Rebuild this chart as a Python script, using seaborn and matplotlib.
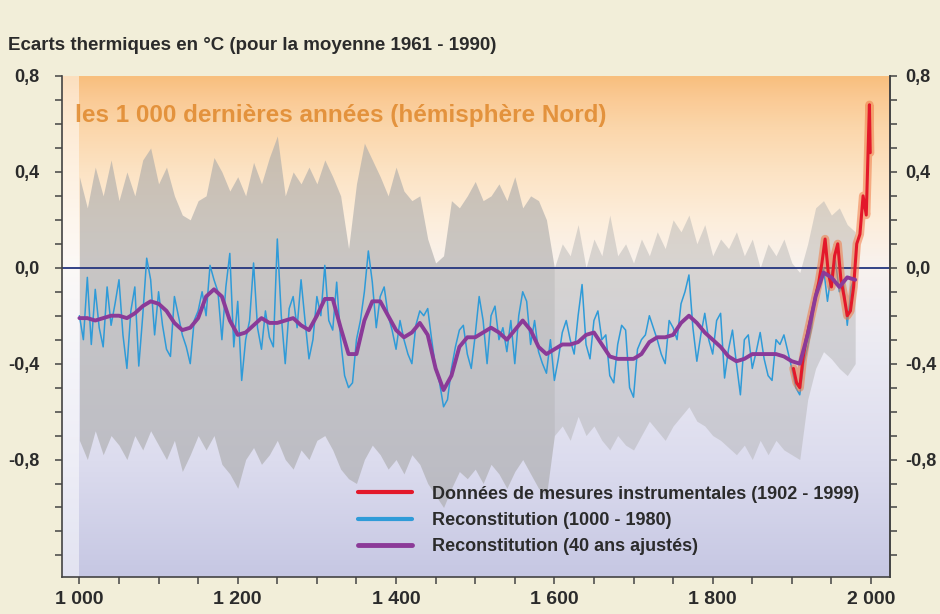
import numpy as np
import pandas as pd
import matplotlib.pyplot as plt
import seaborn as sns
from matplotlib.colors import LinearSegmentedColormap
from matplotlib.lines import Line2D
from matplotlib.ticker import MultipleLocator, FuncFormatter

# Reconstitution annuelle (lue tous les 5 ans, 1000 - 1980)
blue_step = 5
blue_vals = [
    -0.20, -0.30, -0.04, -0.32, -0.09, -0.25, -0.33, -0.08, -0.24, -0.15,
    -0.05, -0.28, -0.42, -0.18, -0.08, -0.41, -0.20, 0.04, -0.05, -0.28,
    -0.10, -0.24, -0.34, -0.37, -0.12, -0.20, -0.28, -0.33, -0.40, -0.22,
    -0.18, -0.10, -0.20, 0.01, -0.05, -0.10, -0.30, -0.08, 0.06, -0.33,
    -0.14, -0.47, -0.30, -0.22, 0.02, -0.25, -0.34, -0.18, -0.29, -0.33,
    0.12, -0.20, -0.40, -0.17, -0.12, -0.25, -0.05, -0.22, -0.38, -0.30,
    -0.12, -0.20, 0.01, -0.22, -0.26, -0.06, -0.30, -0.45, -0.50, -0.48,
    -0.30, -0.22, -0.10, 0.07, -0.06, -0.25, -0.12, -0.08, -0.20, -0.26,
    -0.34, -0.22, -0.30, -0.36, -0.40, -0.24, -0.18, -0.20, -0.17, -0.30,
    -0.42, -0.48, -0.58, -0.55, -0.42, -0.33, -0.26, -0.24, -0.36, -0.42,
    -0.28, -0.12, -0.22, -0.40, -0.20, -0.16, -0.30, -0.25, -0.35, -0.22,
    -0.40, -0.20, -0.10, -0.14, -0.32, -0.22, -0.35, -0.40, -0.44, -0.30,
    -0.47, -0.38, -0.27, -0.22, -0.30, -0.36, -0.20, -0.07, -0.32, -0.38,
    -0.22, -0.18, -0.30, -0.28, -0.45, -0.48, -0.32, -0.24, -0.26, -0.50,
    -0.54, -0.34, -0.30, -0.28, -0.20, -0.25, -0.30, -0.36, -0.40, -0.22,
    -0.25, -0.30, -0.15, -0.10, -0.03, -0.25, -0.39, -0.28, -0.19, -0.30,
    -0.36, -0.22, -0.19, -0.46, -0.34, -0.26, -0.40, -0.53, -0.30, -0.28,
    -0.42, -0.35, -0.27, -0.38, -0.45, -0.47, -0.30, -0.32, -0.28, -0.35,
    -0.42, -0.50, -0.53, -0.40, -0.33, -0.25, -0.10, -0.05, 0.00, -0.14,
    -0.02, 0.03, -0.10, -0.05, -0.24, -0.08, -0.03,
]

# Courbe lissée 40 ans + enveloppe d'incertitude (tous les 10 ans)
smooth_step = 10
purple_vals = [
    -0.21, -0.21, -0.22, -0.21, -0.20, -0.20, -0.21, -0.19, -0.16, -0.14,
    -0.15, -0.18, -0.23, -0.26, -0.25, -0.21, -0.12, -0.09, -0.12, -0.22,
    -0.28, -0.27, -0.24, -0.21, -0.23, -0.23, -0.22, -0.21, -0.24, -0.26,
    -0.20, -0.13, -0.13, -0.25, -0.36, -0.36, -0.22, -0.14, -0.14, -0.20,
    -0.26, -0.29, -0.27, -0.23, -0.28, -0.42, -0.51, -0.45, -0.33, -0.29,
    -0.29, -0.27, -0.25, -0.27, -0.30, -0.26, -0.22, -0.26, -0.33, -0.36,
    -0.34, -0.32, -0.32, -0.31, -0.28, -0.27, -0.32, -0.37, -0.38, -0.38,
    -0.38, -0.36, -0.31, -0.29, -0.29, -0.28, -0.23, -0.20, -0.23, -0.27,
    -0.30, -0.33, -0.37, -0.39, -0.38, -0.36, -0.36, -0.36, -0.36, -0.37,
    -0.39, -0.40, -0.28, -0.12, -0.02, -0.04, -0.08, -0.04, -0.05,
]
band_upper = [
    0.38, 0.25, 0.42, 0.30, 0.45, 0.28, 0.40, 0.30, 0.45, 0.50,
    0.35, 0.42, 0.30, 0.22, 0.20, 0.28, 0.30, 0.46, 0.40, 0.32,
    0.38, 0.30, 0.44, 0.35, 0.46, 0.55, 0.30, 0.40, 0.35, 0.42,
    0.35, 0.45, 0.38, 0.30, 0.08, 0.35, 0.52, 0.45, 0.38, 0.30,
    0.42, 0.32, 0.28, 0.30, 0.12, 0.02, 0.05, 0.28, 0.25, 0.30,
    0.36, 0.28, 0.30, 0.35, 0.28, 0.38, 0.25, 0.30, 0.28, 0.20,
    0.00, 0.10, 0.05, 0.18, 0.00, 0.12, 0.05, 0.22, 0.05, 0.10,
    0.02, 0.12, 0.05, 0.15, 0.08, 0.20, 0.15, 0.22, 0.10, 0.18,
    0.05, 0.12, 0.08, 0.15, 0.05, 0.12, 0.00, 0.10, 0.05, 0.12,
    0.02, -0.02, 0.10, 0.25, 0.28, 0.22, 0.25, 0.18, 0.15,
]
band_lower = [
    -0.72, -0.80, -0.68, -0.78, -0.70, -0.74, -0.80, -0.70, -0.76, -0.68,
    -0.74, -0.80, -0.72, -0.85, -0.78, -0.70, -0.76, -0.70, -0.82, -0.86,
    -0.92, -0.80, -0.75, -0.82, -0.78, -0.72, -0.80, -0.84, -0.76, -0.80,
    -0.72, -0.70, -0.76, -0.84, -0.88, -0.90, -0.80, -0.74, -0.78, -0.84,
    -0.80, -0.86, -0.78, -0.82, -0.90, -0.95, -1.00, -0.92, -0.85, -0.88,
    -0.84, -0.90, -0.82, -0.86, -0.92, -0.85, -0.80, -0.86, -0.92, -0.95,
    -0.70, -0.66, -0.72, -0.62, -0.70, -0.66, -0.72, -0.76, -0.70, -0.74,
    -0.76, -0.70, -0.64, -0.68, -0.72, -0.66, -0.62, -0.58, -0.64, -0.66,
    -0.70, -0.72, -0.75, -0.78, -0.74, -0.80, -0.72, -0.78, -0.72, -0.76,
    -0.78, -0.80, -0.55, -0.42, -0.35, -0.38, -0.42, -0.45, -0.40,
]

# Mesures instrumentales (1902 - 1999)
red_years = [1902, 1906, 1910, 1914, 1918, 1922, 1926, 1930, 1934, 1938,
             1942, 1946, 1950, 1954, 1958, 1962, 1966, 1970, 1974, 1978,
             1982, 1986, 1990, 1994, 1996, 1998, 1999]
red_vals = [-0.42, -0.48, -0.50, -0.38, -0.30, -0.24, -0.18, -0.12, -0.06, 0.02,
            0.12, -0.02, -0.08, 0.05, 0.10, -0.05, -0.12, -0.20, -0.18, -0.08,
            0.10, 0.14, 0.30, 0.22, 0.45, 0.68, 0.48]

x_ticks = [1000, 1200, 1400, 1600, 1800, 2000]
y_ticks = [-0.8, -0.4, 0.0, 0.4, 0.8]

title = "Ecarts thermiques en °C (pour la moyenne 1961 - 1990)"
inner_label = "les 1 000 dernières années (hémisphère Nord)"
legend_labels = ["Données de mesures instrumentales (1902 - 1999)",
                 "Reconstitution (1000 - 1980)",
                 "Reconstitution (40 ans ajustés)"]

c_red, c_blue, c_purple = "#e3182a", "#2f9bd8", "#8b3a98"
c_text, c_axis = "#2b2b2b", "#444444"

df_blue = pd.DataFrame({"annee": 1000 + blue_step * np.arange(len(blue_vals)),
                        "ecart": blue_vals})
df_smooth = pd.DataFrame({"annee": 1000 + smooth_step * np.arange(len(purple_vals)),
                          "ecart": purple_vals, "haut": band_upper, "bas": band_lower})
df_red = pd.DataFrame({"annee": red_years, "ecart": red_vals})

sns.set_style("ticks")
plt.rcParams["font.family"] = ["Liberation Sans", "DejaVu Sans"]

fig = plt.figure(figsize=(9.4, 6.14), dpi=100, facecolor="#f2eed9")
ax = fig.add_axes([62 / 940, 37 / 614, 828 / 940, 501 / 614])
xmin, xmax, ymin, ymax = 978, 2024, -1.29, 0.8

# Fond dégradé orange -> lavande
grad_cmap = LinearSegmentedColormap.from_list("fond", [
    (0.00, "#f8bf7e"), (0.04, "#fac993"), (0.10, "#fbd6aa"), (0.19, "#fce3c4"),
    (0.29, "#fdeedc"), (0.38, "#f8f2ee"), (0.53, "#ecebf3"), (0.77, "#dcdcee"),
    (1.00, "#c6c7e3")])
ax.imshow(np.linspace(0, 1, 256).reshape(-1, 1), cmap=grad_cmap, aspect="auto",
          extent=[xmin, xmax, ymin, ymax], zorder=0)
ax.axvspan(xmin, 1000, color="white", alpha=0.5, lw=0, zorder=0.5)

# Enveloppe grise (plus pâle après 1600)
early = df_smooth["annee"] <= 1600
late = df_smooth["annee"] >= 1600
ax.fill_between(df_smooth["annee"], df_smooth["bas"], df_smooth["haut"], where=early,
                color="#a9a9a9", alpha=0.6, lw=0, zorder=1)
ax.fill_between(df_smooth["annee"], df_smooth["bas"], df_smooth["haut"], where=late,
                color="#b0b0b0", alpha=0.45, lw=0, zorder=1)
ax.axhline(0, color="#23357e", lw=1.3, zorder=2)

sns.lineplot(data=df_blue, x="annee", y="ecart", ax=ax, color=c_blue, lw=1.1, zorder=3)
sns.lineplot(data=df_red, x="annee", y="ecart", ax=ax, color="#f07a45", lw=6,
             alpha=0.55, zorder=4)
sns.lineplot(data=df_red, x="annee", y="ecart", ax=ax, color=c_red, lw=2.2, zorder=5)
sns.lineplot(data=df_smooth, x="annee", y="ecart", ax=ax, color=c_purple, lw=2.8, zorder=6)

ax.set_xlim(xmin, xmax)
ax.set_ylim(ymin, ymax)
ax.set_xlabel("")
ax.set_ylabel("")

y_fmt = FuncFormatter(
    lambda v, p: ("-" if v < -1e-9 else "") + f"{abs(v):.1f}".replace(".", ","))
ax.set_xticks(x_ticks)
ax.xaxis.set_minor_locator(MultipleLocator(50))
ax.set_yticks(y_ticks)
ax.yaxis.set_minor_locator(MultipleLocator(0.1))
ax.xaxis.set_major_formatter(FuncFormatter(lambda v, p: f"{int(v):,}".replace(",", " ")))
ax.yaxis.set_major_formatter(y_fmt)
ax.tick_params(axis="y", which="both", direction="out", length=5, width=1.1,
               color=c_axis, pad=11, labelsize=13)
ax.tick_params(axis="x", which="both", direction="out", length=5, width=1.1,
               color=c_axis, pad=5, labelsize=14)

# Axe de droite identique
sec = ax.secondary_yaxis("right")
sec.set_yticks(y_ticks)
sec.yaxis.set_minor_locator(MultipleLocator(0.1))
sec.yaxis.set_major_formatter(y_fmt)
sec.tick_params(axis="y", which="both", direction="out", length=5, width=1.1,
                color=c_axis, pad=6, labelsize=13)
sec.spines["right"].set_color(c_axis)
sec.spines["right"].set_linewidth(1.2)

for lab in ax.get_xticklabels() + ax.get_yticklabels() + sec.get_yticklabels():
    lab.set_fontweight("bold")
    lab.set_color(c_text)

for side in ["left", "right", "bottom"]:
    ax.spines[side].set_color(c_axis)
    ax.spines[side].set_linewidth(1.2)
ax.spines["top"].set_visible(False)

ax.text(995, 0.635, inner_label, color="#e0882c", alpha=0.85, fontsize=17.5,
        fontweight="bold", va="center", ha="left", zorder=7)
fig.text(8 / 940, 1 - 45 / 614, title, fontsize=13.5, fontweight="bold",
         color=c_text, va="center", ha="left")

handles = [Line2D([], [], color=c_red, lw=3),
           Line2D([], [], color=c_blue, lw=3),
           Line2D([], [], color=c_purple, lw=3.5)]
leg = ax.legend(handles, legend_labels, loc="upper left",
                bbox_to_anchor=(0.3575, 0.182), frameon=False, fontsize=13,
                handlelength=3.0, handletextpad=1.1, labelspacing=0.5,
                borderpad=0, borderaxespad=0)
for t in leg.get_texts():
    t.set_fontweight("bold")
    t.set_color(c_text)

fig.savefig("out.png", dpi=100, facecolor=fig.get_facecolor())
